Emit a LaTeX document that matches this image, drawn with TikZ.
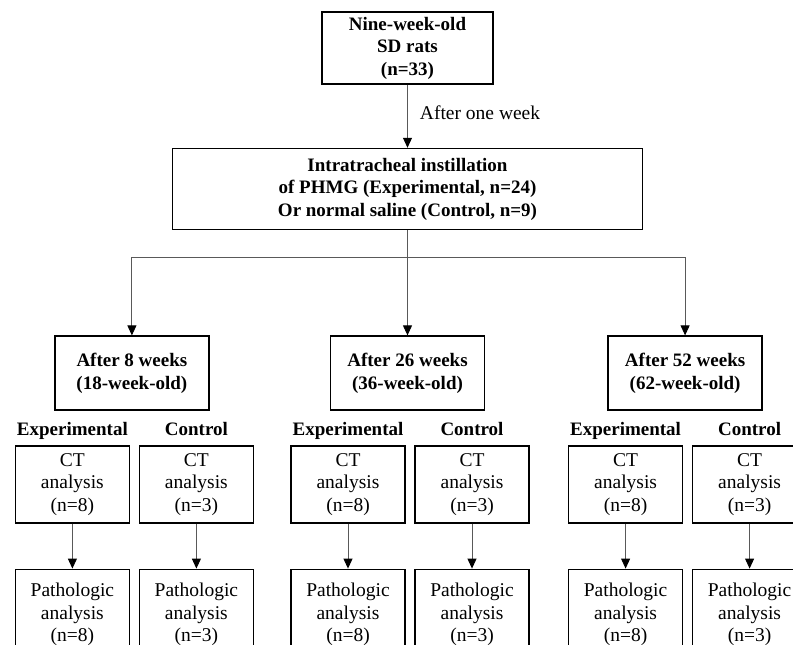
\documentclass[tikz,border=0pt]{standalone}
\usepackage{fontspec}
\setmainfont{Liberation Serif}
\usetikzlibrary{arrows.meta,positioning}

\tikzset{
  frame/.style={draw,line width=1.6pt,align=center,inner sep=0pt},
  boldbox/.style={frame,font=\fontsize{19}{22.5}\selectfont\bfseries},
  timebox/.style={boldbox,minimum width=154pt,minimum height=74pt},
  smallbox/.style={frame,font=\fontsize{19.5}{22.5}\selectfont,minimum width=114pt,minimum height=77pt},
  grouplabel/.style={inner sep=0pt,font=\fontsize{19}{22.5}\selectfont\bfseries},
  link/.style={draw=black!65,line width=0.9pt},
  arr/.style={link,-{Triangle[length=10pt,width=9pt,color=black]}}
}

\begin{document}
\begin{tikzpicture}[x=1pt,y=1pt,node distance=34pt]
      \clip (0,0) rectangle (793,645);

      % Top: rats and instillation
      \node[boldbox,minimum width=171pt,minimum height=72pt] (rats) at (407.5,597)
        {Nine-week-old\\SD rats\\(n=33)};
      \node[boldbox,minimum width=470pt,minimum height=81pt,below=63pt of rats] (instil)
        {Intratracheal instillation\\of PHMG (Experimental, n=24)\\Or normal saline (Control, n=9)};

      \draw[arr] (rats) -- node[right=12pt,pos=0.45,inner sep=0pt,
                   font=\fontsize{19.5}{22.5}\selectfont] (delay) {After one week}
        (instil);

      % Middle: split into the three time points
      \coordinate[below=27pt of instil] (split);
      \node[timebox,below=78pt of split] (wk26) {After 26 weeks\\(36-week-old)};
      \node[timebox,left=120pt of wk26] (wk8) {After 8 weeks\\(18-week-old)};
      \node[timebox,right=122pt of wk26] (wk52) {After 52 weeks\\(62-week-old)};

      \draw[link] (instil) -- (split);
      \draw[arr] (split) -| (wk8);
      \draw[arr] (split) -- (wk26);
      \draw[arr] (split) -| (wk52);

      % Bottom: CT then pathology, per group
      \foreach \w in {wk8,wk26,wk52} {
        \node[smallbox,below=34pt of \w.south,xshift=-59.5pt] (\w-ct-e) {CT\\analysis\\(n=8)};
        \node[smallbox,below=34pt of \w.south,xshift=64.5pt] (\w-ct-c) {CT\\analysis\\(n=3)};
        \node[grouplabel,anchor=base,yshift=9pt] (\w-lab-e) at (\w-ct-e.north) {Experimental};
        \node[grouplabel,anchor=base,yshift=9pt] (\w-lab-c) at (\w-ct-c.north) {Control};

        \node[smallbox,minimum height=90pt,below=45pt of \w-ct-e] (\w-pa-e) {Pathologic\\analysis\\(n=8)};
        \node[smallbox,minimum height=90pt,below=45pt of \w-ct-c] (\w-pa-c) {Pathologic\\analysis\\(n=3)};

        \draw[arr] (\w-ct-e) -- (\w-pa-e);
        \draw[arr] (\w-ct-c) -- (\w-pa-c);
      }

    \end{tikzpicture}
\end{document}
